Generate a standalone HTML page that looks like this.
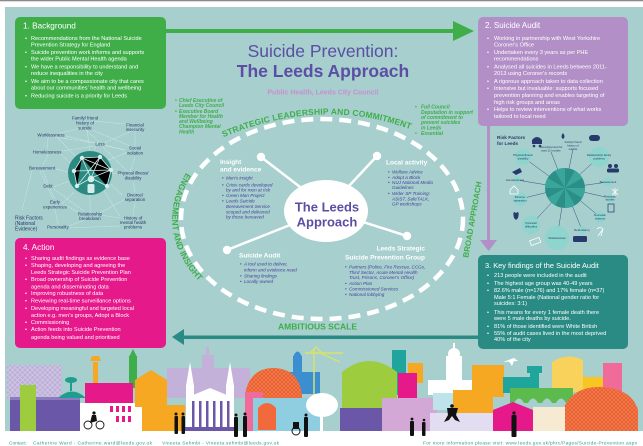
<!DOCTYPE html>
<html><head><meta charset="utf-8"><style>
html,body{margin:0;padding:0;background:#fff;width:643px;height:446px;overflow:hidden}
svg{display:block}
text{font-family:"Liberation Sans",sans-serif}
</style></head><body>
<svg width="643" height="446" viewBox="0 0 643 446" xmlns="http://www.w3.org/2000/svg">
<defs>
<pattern id="lat" width="5" height="5" patternUnits="userSpaceOnUse"><rect width="5" height="5" fill="#bdb0d8"/><path d="M0 2.5L2.5 0L5 2.5L2.5 5Z" fill="none" stroke="#d8cfe9" stroke-width="0.6"/></pattern>
<pattern id="dome" width="4" height="4" patternUnits="userSpaceOnUse"><rect width="4" height="4" fill="#f37a4a"/><path d="M0 0L4 4M4 0L0 4" stroke="#e4552a" stroke-width="0.6"/></pattern>
<path id="pTop" d="M215 141 Q318 94 412 130"/>
<path id="pLeft" d="M196 160 A150 109 0 0 0 222 300"/>
</defs>

<!-- background -->
<rect width="643" height="446" fill="#fff"/>
<rect width="643" height="1.3" fill="#8a8a8a"/>
<rect x="5" y="7" width="638" height="424" fill="#a6cfce"/>

<!-- connectors -->
<rect x="165" y="29" width="290" height="4" fill="#3fae49"/>
<polygon points="453,21 474,31 453,41" fill="#3fae49"/>
<rect x="487" y="125" width="3" height="116" fill="#b28fc6"/>
<polygon points="480,240 497,240 488.5,251" fill="#b28fc6"/>
<rect x="180" y="335.5" width="300" height="3.5" fill="#2a8b84"/>
<polygon points="172,337 184,329 184,345" fill="#2a8b84"/>

<!-- boxes -->
<rect x="15" y="17" width="151" height="92" rx="5" fill="#3fae49"/>
<rect x="478" y="17" width="150" height="109" rx="5" fill="#b28fc6"/>
<rect x="478" y="255" width="150" height="94" rx="5" fill="#2a8b84"/>
<rect x="15" y="238" width="151" height="110" rx="5" fill="#e6198b"/>

<!-- box 1 text -->
<g fill="#fff" font-size="5.6">
<text x="23" y="28.5" font-size="8.2">1. Background</text>
<text x="25" y="40">•</text><text x="31" y="40">Recommendations from the National Suicide</text>
<text x="31" y="46.5">Prevention Strategy for England</text>
<text x="25" y="54">•</text><text x="31" y="54">Suicide prevention work informs and supports</text>
<text x="31" y="60.5">the wider Public Mental Health agenda</text>
<text x="25" y="68.5">•</text><text x="31" y="68.5">We have a responsibility to understand and</text>
<text x="31" y="75">reduce inequalities in the city</text>
<text x="25" y="83">•</text><text x="31" y="83">We aim to be a compassionate city that cares</text>
<text x="31" y="89.5">about our communities' health and wellbeing</text>
<text x="25" y="97.5">•</text><text x="31" y="97.5">Reducing suicide is a priority for Leeds</text>
</g>

<!-- box 2 text -->
<g fill="#fff" font-size="5.6">
<text x="485" y="28" font-size="8">2. Suicide Audit</text>
<text x="487" y="40">•</text><text x="494" y="40">Working in partnership with West Yorkshire</text>
<text x="494" y="46.5">Coroner's Office</text>
<text x="487" y="54">•</text><text x="494" y="54">Undertaken every 3 years as per PHE</text>
<text x="494" y="60.5">recommendations</text>
<text x="487" y="68.5">•</text><text x="494" y="68.5">Analysed all suicides in Leeds between 2011-</text>
<text x="494" y="75">2013 using Coroner's records</text>
<text x="487" y="83">•</text><text x="494" y="83">A rigorous approach taken to data collection</text>
<text x="487" y="90">•</text><text x="494" y="90">Intensive but invaluable: supports focused</text>
<text x="494" y="97">prevention planning and enables targeting of</text>
<text x="494" y="104">high risk groups and areas</text>
<text x="487" y="111">•</text><text x="494" y="111">Helps to review interventions of what works</text>
<text x="494" y="118">tailored to local need</text>
</g>

<!-- box 4 text -->
<g fill="#fff" font-size="5.6">
<text x="23" y="250" font-size="8.2">4. Action</text>
<text x="25" y="260">•</text><text x="31" y="260">Sharing audit findings as evidence base</text>
<text x="25" y="267">•</text><text x="31" y="267">Shaping, developing and agreeing the</text>
<text x="31" y="274">Leeds Strategic Suicide Prevention Plan</text>
<text x="25" y="281">•</text><text x="31" y="281">Broad ownership of Suicide Prevention</text>
<text x="31" y="288.5">agenda and disseminating data</text>
<text x="25" y="295">•</text><text x="31" y="295">Improving robustness of data</text>
<text x="25" y="302.5">•</text><text x="31" y="302.5">Reviewing real-time surveillance options</text>
<text x="25" y="310">•</text><text x="31" y="310">Developing meaningful and targeted local</text>
<text x="31" y="317">action e.g. men's groups, Adopt a Block</text>
<text x="25" y="324">•</text><text x="31" y="324">Commissioning</text>
<text x="25" y="331">•</text><text x="31" y="331">Action feeds into Suicide Prevention</text>
<text x="31" y="339">agenda being valued and prioritised</text>
</g>

<!-- box 3 text -->
<g fill="#fff" font-size="5.6">
<text x="485" y="268" font-size="7.4">3. Key findings of the Suicide Audit</text>
<text x="487" y="277">•</text><text x="494" y="277">213 people were included in the audit</text>
<text x="487" y="285">•</text><text x="494" y="285">The highest age group was 40-49 years</text>
<text x="487" y="292">•</text><text x="494" y="292">82.6% male (n=176) and 17% female (n=37)</text>
<text x="494" y="299">Male 5:1 Female (National gender ratio for</text>
<text x="494" y="305">suicides: 3:1)</text>
<text x="487" y="314">•</text><text x="494" y="314">This means for every 1 female death there</text>
<text x="494" y="320">were 5 male deaths by suicide.</text>
<text x="487" y="328">•</text><text x="494" y="328">81% of those identified were White British</text>
<text x="487" y="335">•</text><text x="494" y="335">55% of audit cases lived in the most deprived</text>
<text x="494" y="341">40% of the city</text>
</g>

<!-- title -->
<text x="323" y="57" font-size="17.5" fill="#5b4ea3" text-anchor="middle">Suicide Prevention:</text>
<text x="323" y="77" font-size="17.5" font-weight="bold" fill="#5b4ea3" text-anchor="middle">The Leeds Approach</text>
<text x="323" y="94.5" font-size="7" font-weight="bold" fill="#c98fd0" text-anchor="middle">Public Health, Leeds City Council</text>

<!-- green side notes -->
<g fill="#3fae49" font-size="5" font-weight="bold" font-style="italic">
<text x="175" y="102">•</text><text x="179" y="102">Chief Executive of</text>
<text x="179" y="107">Leeds City Council</text>
<text x="175" y="112.8">•</text><text x="179" y="112.8">Executive Board</text>
<text x="179" y="117.8">Member for Health</text>
<text x="179" y="122.8">and Wellbeing</text>
<text x="179" y="128">Champion Mental</text>
<text x="179" y="133.5">Health</text>
<text x="415" y="108.5">•</text><text x="421" y="108.5">Full Council</text>
<text x="421" y="113.8">Deputation in support</text>
<text x="421" y="118.8">of commitment to</text>
<text x="421" y="124">prevent suicides</text>
<text x="421" y="129.3">in Leeds</text>
<text x="415" y="135">•</text><text x="421" y="135">Essential</text>
</g>

<!-- dashed ellipse -->
<ellipse cx="322" cy="219" rx="141" ry="100" fill="none" stroke="#fff" stroke-width="4.5" stroke-dasharray="12 7"/>

<!-- arc labels -->
<g fill="#3fae49" font-weight="bold" font-size="8.5">
<text><textPath href="#pTop" startOffset="9" textLength="192" lengthAdjust="spacing">STRATEGIC LEADERSHIP AND COMMITMENT</textPath></text>
<text><textPath href="#pLeft" startOffset="16">ENGAGEMENT AND INSIGHT</textPath></text>
<text x="475" y="220" font-size="8" text-anchor="middle" transform="rotate(-80 475 220)">BROAD APPROACH</text>
<text x="278" y="329.5" textLength="79" lengthAdjust="spacing">AMBITIOUS SCALE</text>
</g>

<!-- spokes -->
<g stroke="#fff" stroke-width="2.5">
<line x1="261" y1="157" x2="304" y2="190"/>
<line x1="377" y1="156" x2="348" y2="187"/>
<line x1="227" y1="250" x2="290" y2="225"/>
<line x1="407" y1="236" x2="360" y2="221"/>
</g>
<g fill="#fff">
<circle cx="261" cy="157" r="4.2"/>
<circle cx="377" cy="156" r="4.2"/>
<circle cx="227" cy="250" r="4.2"/>
<circle cx="407" cy="236" r="4.2"/>
<ellipse cx="326" cy="211" rx="42" ry="31"/>
</g>
<text x="327" y="211.7" font-size="13" font-weight="bold" fill="#5b4ea3" text-anchor="middle">The Leeds</text>
<text x="327" y="226.7" font-size="13" font-weight="bold" fill="#5b4ea3" text-anchor="middle">Approach</text>

<!-- quadrant headings -->
<g fill="#fff" font-weight="bold" font-size="6.5">
<text x="220" y="164">Insight</text>
<text x="220" y="171.5">and evidence</text>
<text x="386" y="164.5">Local activity</text>
<text x="239" y="257.5">Suicide Audit</text>
<text x="425" y="250.5" text-anchor="end">Leeds Strategic</text>
<text x="425" y="259.5" text-anchor="end">Suicide Prevention Group</text>
</g>
<g fill="#4a3f9b" font-size="4.6" font-style="italic">
<text x="222" y="179.7">•</text><text x="226" y="179.7">Men's insight</text>
<text x="222" y="186.7">•</text><text x="226" y="186.7">Crisis cards developed</text>
<text x="226" y="191.7">by and for men at risk</text>
<text x="222" y="196.9">•</text><text x="226" y="196.9">Green Man Project</text>
<text x="222" y="202.7">•</text><text x="226" y="202.7">Leeds Suicide</text>
<text x="226" y="207.9">Bereavement Service</text>
<text x="226" y="213.4">scoped and delivered</text>
<text x="226" y="218.7">by those bereaved</text>

<text x="388" y="173.7">•</text><text x="392" y="173.7">Welfare Advice</text>
<text x="388" y="178.9">•</text><text x="392" y="178.9">Adopt a Block</text>
<text x="388" y="184.2">•</text><text x="392" y="184.2">NUJ National Media</text>
<text x="392" y="189.2">Guidelines</text>
<text x="388" y="194.9">•</text><text x="392" y="194.9">Wider SP Training:</text>
<text x="392" y="200.5">ASIST, SafeTALK,</text>
<text x="392" y="205.7">GP workshops</text>

<text x="240" y="265.7">•</text><text x="244" y="265.7">A tool used to deliver,</text>
<text x="244" y="271.5">inform and evidence need</text>
<text x="240" y="277.5">•</text><text x="244" y="277.5">Sharing findings</text>
<text x="240" y="283">•</text><text x="244" y="283">Locally owned</text>

<text x="345" y="268.7">•</text><text x="349" y="268.7">Partners (Police, Fire Rescue, CCGs,</text>
<text x="349" y="273.9">Third Sector, Acute Mental Health</text>
<text x="349" y="279.2">Trust, Prisons, Coroner's Office)</text>
<text x="345" y="285">•</text><text x="349" y="285">Action Plan</text>
<text x="345" y="290.5">•</text><text x="349" y="290.5">Commissioned Services</text>
<text x="345" y="296">•</text><text x="349" y="296">National lobbying</text>
</g>

<!-- national risk factors network -->
<g stroke="#e3f1f0" stroke-width="0.55" stroke-dasharray="1 0.8" fill="none">
<path d="M85 129L99 142M82 128L60 133M92 121L125 124M90 129L130 146M87 130L90 151
M134 130L104 143M135 131L135 146M55 137L96 143M48 138L47 149M58 138L76 157M62 135L125 150
M95 146L62 151M106 146L125 150M96 147L94 151M103 147L128 172M48 155L43 165M60 153L70 163
M43 171L48 183M56 169L68 172M40 171L53 199M53 187L70 181M50 189L55 199M54 189L85 212
M55 209L58 224M65 205L80 213M62 204L74 192M66 227L85 220M66 228L120 226
M100 215L120 218M90 212L90 195M100 213L125 199M133 215L135 203M120 216L104 191
M135 192L133 182M122 195L111 184M130 172L135 157M122 175L112 173M128 152L106 161M33 167L22 210"/>
</g>
<circle cx="90" cy="173" r="22" fill="#2a8a82"/>
<g stroke="#d6eeeb" stroke-width="0.8">
<path d="M82 158L100 157L111 170L107 186M82 158L74 171L77 186M82 158L91 178M100 157L91 178M111 170L91 178M77 186L91 178M107 186L91 178M82 158L111 170M74 171L111 170M100 157L77 186"/>
</g>
<g fill="#d6eeeb">
<circle cx="82" cy="158" r="2.2"/><circle cx="100" cy="157" r="2.2"/><circle cx="111" cy="170" r="2.2"/>
<circle cx="107" cy="186" r="2.2"/><circle cx="77" cy="186" r="2.2"/><circle cx="74" cy="171" r="2.2"/>
<circle cx="91" cy="179" r="3.3"/><rect x="87.5" y="184" width="7" height="9" rx="1.5"/>
</g>
<g fill="#2b3669" font-size="4.4" text-anchor="middle">
<text x="85" y="119.5">Family/ friend</text><text x="85" y="124.5">history of</text><text x="85" y="129.5">suicide</text>
<text x="135" y="126.5">Financial</text><text x="135" y="131">insecurity</text>
<text x="51" y="136.5">Worklessness</text>
<text x="100" y="145.5">Loss</text>
<text x="47" y="153.5">Homelessness</text>
<text x="135" y="149.5">Social</text><text x="135" y="154.5">isolation</text>
<text x="42" y="169.5">Bereavement</text>
<text x="133" y="174.5">Physical illness/</text><text x="133" y="179.5">disability</text>
<text x="48" y="187.5">Debt</text>
<text x="135" y="196.5">Divorce/</text><text x="135" y="201">separation</text>
<text x="55" y="203.5">Early</text><text x="55" y="208.5">experiences</text>
<text x="90" y="215.5">Relationship</text><text x="90" y="220">breakdown</text>
<text x="133" y="219.5">History of</text><text x="133" y="224">mental health</text><text x="133" y="228.5">problems</text>
<text x="58" y="228.5">Personality</text>
</g>
<g fill="#2b3669" font-size="5">
<text x="15" y="219.5">Risk Factors</text><text x="15" y="225">(National</text><text x="15" y="230.5">Evidence)</text>
</g>

<!-- Leeds risk factor wheel -->
<g fill="#2b3669" font-size="4.7" font-weight="bold">
<text x="497" y="139">Risk Factors</text><text x="497" y="145">for Leeds</text>
</g>
<g stroke="#3b4f7a" stroke-width="0.5">
<path d="M565 188L523 157M565 188L551 152M565 188L573 149M565 188L599 157M565 188L608 182M565 188L610 198M565 188L600 217M565 188L582 230M565 188L557 238M565 188L531 225M565 188L520 199M565 188L517 180"/>
</g>
<g fill="#8dd5cd">
<circle cx="523" cy="157" r="8"/><circle cx="599" cy="157" r="10"/><circle cx="608" cy="182" r="4.5"/>
<circle cx="610" cy="198" r="4"/><circle cx="600" cy="217" r="5.5"/><circle cx="582" cy="230" r="4"/>
<circle cx="557" cy="238" r="12"/><circle cx="531" cy="225" r="9"/><circle cx="520" cy="199" r="7"/>
<circle cx="517" cy="180" r="3.5"/>
</g>
<circle cx="565" cy="188" r="20" fill="#2b8f87"/>
<g fill="#3aa69b">
<path d="M565 188L585 188A20 20 0 0 1 582.32 198Z"/>
<path d="M565 188L575 205.32A20 20 0 0 1 565 208Z"/>
<path d="M565 188L555 205.32A20 20 0 0 1 547.68 198Z"/>
<path d="M565 188L545 188A20 20 0 0 1 547.68 178Z"/>
<path d="M565 188L555 170.68A20 20 0 0 1 565 168Z"/>
<path d="M565 188L575 170.68A20 20 0 0 1 582.32 178Z"/>
</g>
<g fill="#2b3669" font-size="2.8" text-anchor="middle">
<text x="523" y="156">Physical illness/</text><text x="523" y="159.5">disability</text>
<text x="551" y="148">Unemployment for</text><text x="551" y="151.5">past 12 months</text>
<text x="573" y="143">Family/ friend</text><text x="573" y="146.5">history of</text><text x="573" y="150">suicide</text>
<text x="599" y="156">Relationship/ family</text><text x="599" y="159.5">problems</text>
<text x="608" y="183">Bereavement</text>
<text x="610" y="197.5">Financial</text><text x="610" y="200.5">worries</text>
<text x="600" y="216">Domestic</text><text x="600" y="219.5">violence</text>
<text x="582" y="231">Redundancy</text>
<text x="557" y="239">Worklessness</text>
<text x="531" y="224">Financial</text><text x="531" y="227.5">difficulties</text>
<text x="520" y="198">Divorce/</text><text x="520" y="201.5">separation</text>
<text x="515" y="181">Homelessness</text>
</g>
<!-- wheel icons -->
<g fill="#263a6e">
<path d="M532 140 Q537 134 542 140 L542 144 L532 144Z"/><circle cx="534" cy="146" r="1.3"/><circle cx="540" cy="146" r="1.3"/>
<path d="M563 133 Q566 137 563 139 Q560 137 563 133Z"/>
<rect x="589" y="135" width="11" height="6" rx="3"/>
<circle cx="610" cy="166" r="2"/><circle cx="616" cy="166" r="2"/><rect x="607" y="168.5" width="12" height="4" rx="1.5"/>
<path d="M512 172 L520 168 L522 172 L516 175Z"/>
<path d="M516 213 Q512 210 514 218 L516 220 L518 218 Q520 210 516 213Z"/>
<rect x="573" y="236" width="14" height="6" rx="1.5"/>
</g>
<g fill="none" stroke="#fff" stroke-width="0.8">
<path d="M510 190 L514 186 L518 190 L518 194 L510 194Z"/>
<path d="M612 189 L618 195 M618 189 L612 195 M615 188 L615 196"/>
<path d="M597 229 Q600 226 603 229 L598 236 M603 229 L601 236"/>
<rect x="530" y="239" width="10" height="5" transform="rotate(-20 535 241)"/>
</g>
<rect x="608" y="204" width="6" height="8" fill="none" stroke="#263a6e" stroke-width="0.7"/>

<!-- SKYLINE back layer -->
<rect x="7" y="365" width="55" height="34" fill="url(#lat)"/>
<rect x="93" y="362" width="5" height="22" fill="#f7a823"/>
<path d="M90 361 L101 361 L99 356 L92 356Z" fill="#f7a823"/>
<rect x="129" y="356" width="8" height="32" fill="#3dae49"/>
<path d="M129 357 L133 349 L137 357Z" fill="#3dae49"/>
<rect x="167" y="368" width="83" height="30" fill="#c4b1da"/>
<rect x="202" y="355" width="12" height="14" fill="#c4b1da"/>
<rect x="206" y="347" width="3" height="9" fill="#c4b1da"/>
<rect x="293" y="356" width="9" height="36" fill="#3b8fd0"/>
<path d="M293 357 Q297.5 346 302 357Z" fill="#3b8fd0"/>
<rect x="287" y="372" width="33" height="22" fill="#3b8fd0"/>
<g stroke="#d7e26e" stroke-width="1.5" fill="none"><path d="M314 350 L314 400 M305 353 L343 353 M310 353 L316 347 L322 353 M320 353 L340 362"/></g>
<rect x="392" y="350" width="14" height="45" fill="#1fa59b"/>
<rect x="408" y="363" width="15" height="20" fill="#f7a823"/>
<rect x="446" y="356" width="16" height="26" fill="#fff"/>
<ellipse cx="454" cy="354" rx="6" ry="6" fill="#fff"/>
<rect x="453" y="343" width="2" height="7" fill="#fff"/>
<rect x="428" y="380" width="50" height="15" fill="#fff"/>
<rect x="472" y="365" width="32" height="32" fill="#f7a823"/>
<rect x="503" y="377" width="34" height="16" fill="#1fa59b"/>
<rect x="530" y="372" width="9" height="20" fill="#1fa59b"/>
<rect x="527" y="366" width="15" height="7" fill="#1fa59b"/>
<path d="M552 392 L552 362 Q567 352 583 360 L583 392Z" fill="#f8d25a"/>
<rect x="583" y="377" width="30" height="14" fill="#f7c623"/>
<rect x="603" y="363" width="19" height="34" fill="#f06b9a"/>
<path d="M342 417 L342 372 Q369 350 397 372 L397 417Z" fill="#9dcd3e"/>
<path d="M503 362 L518 361 L514 358 Z M508 360 L512 366 L514 361Z" fill="#fff"/>

<!-- SKYLINE front layer -->
<rect x="10" y="397" width="70" height="34" fill="#6b57a8"/>
<rect x="10" y="397" width="70" height="3" fill="#8b7cc0"/>
<rect x="20" y="385" width="16" height="46" fill="#9dcd3e"/>
<path d="M58 398 Q72 385 86 398Z" fill="#1f9e8f"/>
<rect x="70" y="381" width="2" height="10" fill="#1f9e8f"/>
<ellipse cx="71" cy="380" rx="6" ry="3" fill="#1f9e8f"/>
<rect x="85" y="383" width="48" height="20" fill="#e5198a"/>
<rect x="80" y="403" width="62" height="28" fill="#fff"/>
<g fill="#e5198a"><rect x="110" y="406" width="3" height="6"/><rect x="116" y="406" width="3" height="6"/><rect x="122" y="406" width="3" height="6"/><rect x="128" y="406" width="3" height="6"/><rect x="116" y="416" width="3" height="6"/><rect x="122" y="416" width="3" height="6"/><rect x="128" y="416" width="3" height="6"/></g>
<path d="M135 407 L135 380 L151 370 L167 380 L167 407Z" fill="#f7a823"/>
<rect x="142" y="405" width="43" height="26" fill="#f7a823"/>
<rect x="186" y="385" width="8" height="46" fill="#fff"/>
<path d="M186 386 L190 362 L194 386Z" fill="#fff"/>
<rect x="226" y="385" width="8" height="46" fill="#fff"/>
<path d="M226 386 L230 362 L234 386Z" fill="#fff"/>
<path d="M186 398 L210 388 L234 398Z" fill="#fff"/>
<rect x="186" y="398" width="48" height="33" fill="#fff"/>
<g fill="#6b57a8"><rect x="192" y="401" width="2.5" height="26"/><rect x="199" y="401" width="2.5" height="26"/><rect x="206" y="401" width="2.5" height="26"/><rect x="213" y="401" width="2.5" height="26"/><rect x="220" y="401" width="2.5" height="26"/><rect x="227" y="401" width="2.5" height="26"/><rect x="184" y="427" width="52" height="4"/></g>
<path d="M245 428 L245 395 Q249 368 274 368 Q299 369 302 395 L302 428Z" fill="url(#dome)"/>
<rect x="245" y="392" width="18" height="39" fill="#f06b9a"/>
<rect x="253" y="398" width="67" height="33" fill="#8fcde0"/>
<path d="M258 430 L258 408 Q267 398 276 408 L276 430Z" fill="#f26a3b"/>
<ellipse cx="322" cy="405" rx="16" ry="12" fill="#fff"/>
<rect x="320" y="410" width="3" height="21" fill="#fff"/>
<rect x="340" y="408" width="43" height="23" fill="#6b57a8"/>
<rect x="398" y="373" width="19" height="34" fill="#e5198a"/>
<rect x="382" y="398" width="55" height="33" fill="#d3a7d6"/>
<rect x="433" y="393" width="30" height="17" fill="#bfe3ea"/>
<rect x="453" y="390" width="40" height="23" fill="#f7a823"/>
<rect x="430" y="413" width="73" height="18" fill="#e2ddf0"/>
<rect x="510" y="388" width="63" height="15" fill="#5dbb4e"/>
<g fill="#a6cfce"><path d="M514 403 Q519 394 524 403Z M528 403 Q533 394 538 403Z M542 403 Q547 394 552 403Z M556 403 Q561 394 566 403Z"/></g>
<path d="M493 431 L493 410 L513 402 L533 410 L533 431Z" fill="#e5198a"/>
<rect x="533" y="407" width="34" height="24" fill="#f7ead2"/>
<path d="M565 431 L565 405 Q575 386 602 387 Q632 389 638 410 L638 431Z" fill="url(#dome)"/>
<rect x="0" y="431" width="643" height="15" fill="#fff"/>

<!-- silhouettes -->
<g fill="#111">
<circle cx="88" cy="425" r="4" fill="none" stroke="#111" stroke-width="0.9"/><circle cx="100" cy="425" r="4" fill="none" stroke="#111" stroke-width="0.9"/>
<circle cx="94" cy="413" r="1.6"/><path d="M92 415 L96 415 L97 421 L90 423Z"/>
<circle cx="176" cy="414" r="1.5"/><rect x="174.5" y="416" width="3.5" height="18" rx="1"/>
<circle cx="183" cy="414" r="1.5"/><rect x="181.5" y="416" width="3.5" height="18" rx="1"/>
<circle cx="236" cy="415" r="1.5"/><rect x="234" y="417" width="4" height="20" rx="1"/>
<circle cx="245" cy="414" r="1.5"/><rect x="243" y="416" width="4" height="21" rx="1"/>
<circle cx="306" cy="415" r="1.5"/><rect x="304" y="417" width="4" height="20" rx="1"/>
<circle cx="296" cy="431" r="4" fill="none" stroke="#111" stroke-width="1"/><rect x="293" y="422" width="6" height="7"/>
<circle cx="412" cy="419" r="1.4"/><rect x="410" y="421" width="4" height="15" rx="1"/>
<circle cx="424" cy="420" r="1.3"/><rect x="422" y="422" width="3.5" height="14" rx="1"/>
<circle cx="452" cy="406" r="1.8"/><path d="M447 408 L458 408 L456 415 L460 422 L455 420 L452 416 L449 420 L444 422 L448 415Z"/>
<circle cx="514" cy="413" r="1.6"/><rect x="511.5" y="415" width="5" height="22" rx="1"/>
</g>

<!-- footer -->
<g fill="#2e9e92" font-size="4.8">
<text x="9" y="444.5">Contact:</text>
<text x="33" y="444.5" textLength="119" lengthAdjust="spacing">Catherine Ward  -  Catherine.ward@leeds.gov.uk</text>
<text x="162" y="444.5" textLength="117" lengthAdjust="spacing">Vineeta Sehmbi  -  Vineeta.sehmbi@leeds.gov.uk</text>
<text x="423" y="444.5" textLength="214" lengthAdjust="spacing">For more information please visit: www.leeds.gov.uk/phrc/Pages/Suicide-Prevention.aspx</text>
</g>
</svg>
</body></html>
